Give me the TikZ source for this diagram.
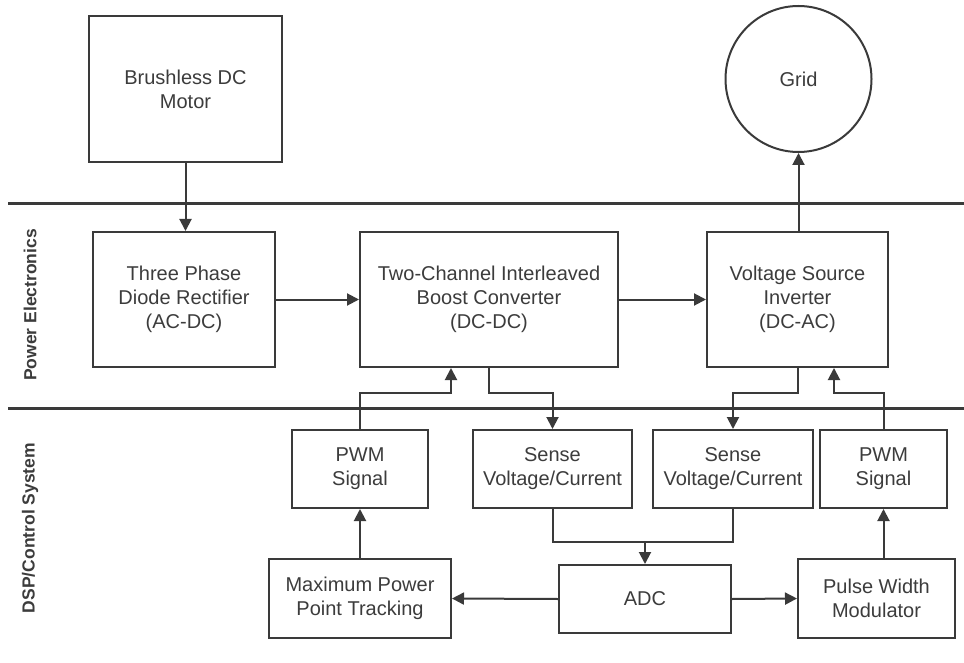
\documentclass[tikz,border=0pt]{standalone}
\usepackage{fontspec}
\setmainfont{Liberation Sans}
\usetikzlibrary{arrows.meta,calc}
\definecolor{linec}{HTML}{3A3A3A}
\definecolor{textc}{HTML}{3C3C3C}
\begin{document}
\begin{tikzpicture}[x=1pt,y=-1pt,
  box/.style={draw=linec, line width=2pt, fill=white, align=center, inner sep=0pt, text=textc, font=\fontsize{20}{24}\selectfont},
  conn/.style={draw=linec, line width=2pt, -{Triangle[length=12pt,width=12pt]}},
  wire/.style={draw=linec, line width=2pt},
  sep/.style={draw=linec, line width=3pt},
  lane/.style={font=\bfseries\fontsize{17.5}{20}\selectfont, text=textc, rotate=90}
]
\useasboundingbox (0,0) rectangle (964,663);

% lane separators and labels
\coordinate (s1l) at (8,204);
\coordinate (s1r) at (964,204);
\coordinate (s2l) at (8,408);
\coordinate (s2r) at (964,408);
\draw[sep] (s1l) -- (s1r);
\draw[sep] (s2l) -- (s2r);
\node[lane] (pe) at (30,305) {Power Electronics};
\node[lane] (dsp) at (30,528) {DSP/Control System};

% top
\node[box, minimum width=193pt, minimum height=146pt] (motor) at (185.5,89) {Brushless DC\\Motor};
\node[box, circle, minimum size=146pt] (grid) at (798.5,79) {Grid};

% power electronics
\node[box, minimum width=182pt, minimum height=135pt] (rect) at (184,299.5) {Three Phase\\Diode Rectifier\\(AC-DC)};
\node[box, minimum width=258pt, minimum height=135pt] (boost) at (489,299.5) {Two-Channel Interleaved\\Boost Converter\\(DC-DC)};
\node[box, minimum width=181pt, minimum height=135pt] (inv) at (797.5,299.5) {Voltage Source\\Inverter\\(DC-AC)};

% DSP row 1
\node[box, minimum width=136pt, minimum height=78pt] (pwm1) at (360,469) {PWM\\Signal};
\node[box, minimum width=159pt, minimum height=78pt] (sense1) at (552.5,469) {Sense\\Voltage/Current};
\node[box, minimum width=160pt, minimum height=78pt] (sense2) at (733,469) {Sense\\Voltage/Current};
\node[box, minimum width=127pt, minimum height=78pt] (pwm2) at (883.5,469) {PWM\\Signal};

% DSP row 2
\node[box, minimum width=182pt, minimum height=79pt] (mppt) at (360,598.5) {Maximum Power\\Point Tracking};
\node[box, minimum width=172pt, minimum height=68pt] (adc) at (645,599) {ADC};
\node[box, minimum width=157pt, minimum height=79pt] (pwmod) at (876.5,598.5) {Pulse Width\\Modulator};

\coordinate (bus) at (0,393);
\coordinate (bus2) at (0,542);

% connectors
\draw[conn] (motor.south) -- (motor.south |- rect.north);
\draw[conn] (rect) -- (boost);
\draw[conn] (boost) -- (inv);
\draw[conn] (grid.south |- inv.north) -- (grid.south);

\draw[conn] (pwm1.north) -- (pwm1.north |- bus) -| ($(boost.south)+(-38,0)$);
\draw[conn] (boost.south) -- (boost.south |- bus) -| (sense1.north);
\draw[conn] (inv.south) -- (inv.south |- bus) -| (sense2.north);
\draw[conn] (pwm2.north) -- (pwm2.north |- bus) -| ($(inv.south)+(36.5,0)$);

\draw[wire] (sense1.south) -- (sense1.south |- bus2) -- (sense2.south |- bus2) -- (sense2.south);
\draw[conn] (adc.north |- bus2) -- (adc.north);

\draw[conn] (adc.west) -- (mppt.east);
\draw[conn] (adc.east) -- (pwmod.west);
\draw[conn] (mppt.north) -- (pwm1.south);
\draw[conn] (pwm2.south |- pwmod.north) -- (pwm2.south);
\end{tikzpicture}
\end{document}
